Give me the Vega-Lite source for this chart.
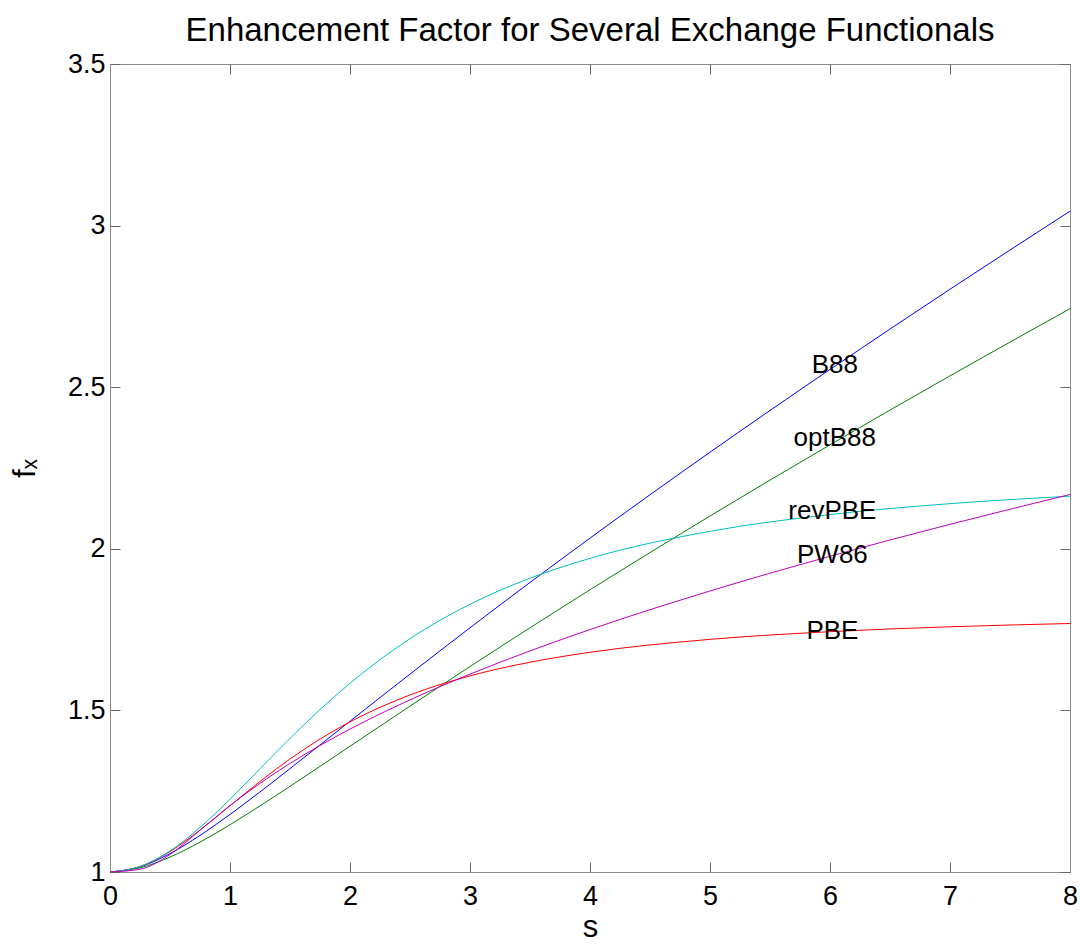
{
  "$schema": "https://vega.github.io/schema/vega-lite/v6.json",
  "width": 960,
  "height": 808,
  "autosize": {"type": "none"},
  "padding": {"left": 110, "top": 64, "right": 10, "bottom": 73},
  "background": "white",
  "title": {
    "text": "Enhancement Factor for Several Exchange Functionals",
    "font": "Liberation Sans",
    "fontSize": 33,
    "fontWeight": "normal",
    "color": "black",
    "offset": 2
  },
  "config": {
    "view": {"stroke": null},
    "axis": {
      "grid": false,
      "labelFlush": false,
      "domainColor": "#888888",
      "tickColor": "#666666",
      "labelFont": "Liberation Sans",
      "labelFontSize": 27,
      "labelColor": "black",
      "titleFont": "Liberation Sans",
      "titleFontWeight": "normal",
      "titleColor": "black"
    }
  },
  "datasets": {
    "curves": [
      {"functional": "B88", "s": 0, "fx": 1},
      {"functional": "B88", "s": 0.25, "fx": 1.01602},
      {"functional": "B88", "s": 0.5, "fx": 1.05698},
      {"functional": "B88", "s": 0.75, "fx": 1.11315},
      {"functional": "B88", "s": 1, "fx": 1.17805},
      {"functional": "B88", "s": 1.25, "fx": 1.24772},
      {"functional": "B88", "s": 1.5, "fx": 1.31985},
      {"functional": "B88", "s": 1.75, "fx": 1.39301},
      {"functional": "B88", "s": 2, "fx": 1.46646},
      {"functional": "B88", "s": 2.5, "fx": 1.61233},
      {"functional": "B88", "s": 3, "fx": 1.75565},
      {"functional": "B88", "s": 3.5, "fx": 1.89583},
      {"functional": "B88", "s": 4, "fx": 2.03302},
      {"functional": "B88", "s": 5, "fx": 2.2988},
      {"functional": "B88", "s": 6, "fx": 2.55496},
      {"functional": "B88", "s": 7, "fx": 2.80308},
      {"functional": "B88", "s": 8, "fx": 3.04462},

      {"functional": "optB88", "s": 0, "fx": 1},
      {"functional": "optB88", "s": 0.25, "fx": 1.01291},
      {"functional": "optB88", "s": 0.5, "fx": 1.04623},
      {"functional": "optB88", "s": 0.75, "fx": 1.09241},
      {"functional": "optB88", "s": 1, "fx": 1.14625},
      {"functional": "optB88", "s": 1.25, "fx": 1.20447},
      {"functional": "optB88", "s": 1.5, "fx": 1.26508},
      {"functional": "optB88", "s": 1.75, "fx": 1.32688},
      {"functional": "optB88", "s": 2, "fx": 1.3891},
      {"functional": "optB88", "s": 2.5, "fx": 1.51322},
      {"functional": "optB88", "s": 3, "fx": 1.6356},
      {"functional": "optB88", "s": 3.5, "fx": 1.75562},
      {"functional": "optB88", "s": 4, "fx": 1.87322},
      {"functional": "optB88", "s": 5, "fx": 2.10148},
      {"functional": "optB88", "s": 6, "fx": 2.32169},
      {"functional": "optB88", "s": 7, "fx": 2.5351},
      {"functional": "optB88", "s": 8, "fx": 2.74294},

      {"functional": "PBE", "s": 0, "fx": 1},
      {"functional": "PBE", "s": 0.25, "fx": 1.01683},
      {"functional": "PBE", "s": 0.5, "fx": 1.06333},
      {"functional": "PBE", "s": 0.75, "fx": 1.12972},
      {"functional": "PBE", "s": 1, "fx": 1.20489},
      {"functional": "PBE", "s": 1.25, "fx": 1.28001},
      {"functional": "PBE", "s": 1.5, "fx": 1.34963},
      {"functional": "PBE", "s": 1.75, "fx": 1.4113},
      {"functional": "PBE", "s": 2, "fx": 1.46447},
      {"functional": "PBE", "s": 2.5, "fx": 1.54775},
      {"functional": "PBE", "s": 3, "fx": 1.60684},
      {"functional": "PBE", "s": 3.5, "fx": 1.64907},
      {"functional": "PBE", "s": 4, "fx": 1.67977},
      {"functional": "PBE", "s": 5, "fx": 1.71981},
      {"functional": "PBE", "s": 6, "fx": 1.7436},
      {"functional": "PBE", "s": 7, "fx": 1.75872},
      {"functional": "PBE", "s": 8, "fx": 1.76887},

      {"functional": "revPBE", "s": 0, "fx": 1},
      {"functional": "revPBE", "s": 0.25, "fx": 1.01695},
      {"functional": "revPBE", "s": 0.5, "fx": 1.06515},
      {"functional": "revPBE", "s": 0.75, "fx": 1.1376},
      {"functional": "revPBE", "s": 1, "fx": 1.22526},
      {"functional": "revPBE", "s": 1.25, "fx": 1.31947},
      {"functional": "revPBE", "s": 1.5, "fx": 1.41335},
      {"functional": "revPBE", "s": 1.75, "fx": 1.50238},
      {"functional": "revPBE", "s": 2, "fx": 1.58403},
      {"functional": "revPBE", "s": 2.5, "fx": 1.72203},
      {"functional": "revPBE", "s": 3, "fx": 1.82835},
      {"functional": "revPBE", "s": 3.5, "fx": 1.90906},
      {"functional": "revPBE", "s": 4, "fx": 1.97043},
      {"functional": "revPBE", "s": 5, "fx": 2.05412},
      {"functional": "revPBE", "s": 6, "fx": 2.10593},
      {"functional": "revPBE", "s": 7, "fx": 2.13971},
      {"functional": "revPBE", "s": 8, "fx": 2.16275},

      {"functional": "PW86", "s": 0, "fx": 1},
      {"functional": "PW86", "s": 0.25, "fx": 1.00852},
      {"functional": "PW86", "s": 0.5, "fx": 1.05404},
      {"functional": "PW86", "s": 0.75, "fx": 1.12928},
      {"functional": "PW86", "s": 1, "fx": 1.20547},
      {"functional": "PW86", "s": 1.25, "fx": 1.27437},
      {"functional": "PW86", "s": 1.5, "fx": 1.33596},
      {"functional": "PW86", "s": 1.75, "fx": 1.39152},
      {"functional": "PW86", "s": 2, "fx": 1.44223},
      {"functional": "PW86", "s": 2.5, "fx": 1.53264},
      {"functional": "PW86", "s": 3, "fx": 1.61223},
      {"functional": "PW86", "s": 3.5, "fx": 1.68407},
      {"functional": "PW86", "s": 4, "fx": 1.75009},
      {"functional": "PW86", "s": 5, "fx": 1.8695},
      {"functional": "PW86", "s": 6, "fx": 1.97688},
      {"functional": "PW86", "s": 7, "fx": 2.0757},
      {"functional": "PW86", "s": 8, "fx": 2.16801}
    ],
    "labels": [
      {"name": "B88", "s": 6.04, "fx": 2.569},
      {"name": "optB88", "s": 6.04, "fx": 2.343},
      {"name": "revPBE", "s": 6.02, "fx": 2.117},
      {"name": "PW86", "s": 6.02, "fx": 1.981},
      {"name": "PBE", "s": 6.02, "fx": 1.746}
    ]
  },
  "layer": [
    {
      "data": {"name": "curves"},
      "mark": {"type": "line", "strokeWidth": 1, "interpolate": "monotone"},
      "encoding": {
        "x": {
          "field": "s",
          "type": "quantitative",
          "scale": {"domain": [0, 8], "nice": false, "zero": false},
          "axis": {
            "orient": "bottom",
            "values": [0, 1, 2, 3, 4, 5, 6, 7, 8],
            "format": "~g",
            "tickSize": -10,
            "labelPadding": 21,
            "title": "s",
            "titleFontSize": 31,
            "titlePadding": 3
          }
        },
        "y": {
          "field": "fx",
          "type": "quantitative",
          "scale": {"domain": [1, 3.5], "nice": false, "zero": false},
          "axis": {
            "orient": "left",
            "values": [1, 1.5, 2, 2.5, 3, 3.5],
            "format": "~g",
            "tickSize": -10,
            "labelPadding": 15,
            "title": "fₓ",
            "titleFontSize": 31,
            "titlePadding": 26
          }
        },
        "color": {
          "field": "functional",
          "type": "nominal",
          "scale": {
            "domain": ["B88", "optB88", "PBE", "revPBE", "PW86"],
            "range": ["#0000ff", "#008000", "#ff0000", "#00bfbf", "#bf00bf"]
          },
          "legend": null
        }
      }
    },
    {
      "data": {"name": "labels"},
      "mark": {"type": "text", "font": "Liberation Sans", "fontSize": 26, "color": "black", "align": "center", "baseline": "middle"},
      "encoding": {
        "x": {
          "field": "s",
          "type": "quantitative",
          "scale": {"domain": [0, 8], "nice": false, "zero": false},
          "axis": {"orient": "top", "values": [0, 1, 2, 3, 4, 5, 6, 7, 8], "tickSize": -10, "labels": false, "title": null}
        },
        "y": {
          "field": "fx",
          "type": "quantitative",
          "scale": {"domain": [1, 3.5], "nice": false, "zero": false},
          "axis": {"orient": "right", "values": [1, 1.5, 2, 2.5, 3, 3.5], "tickSize": -10, "labels": false, "title": null}
        },
        "text": {"field": "name"}
      }
    }
  ],
  "resolve": {"axis": {"x": "independent", "y": "independent"}}
}
